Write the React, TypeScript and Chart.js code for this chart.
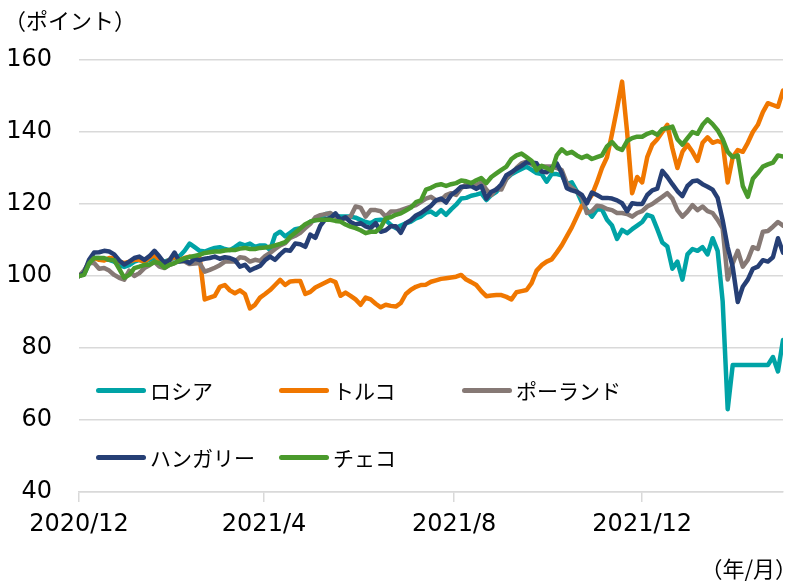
import React, { useEffect, useRef } from 'react';
import { Chart, registerables } from 'chart.js';

Chart.register(...registerables);

// ---- data ----
const seriesNames = ['ロシア', 'トルコ', 'ポーランド', 'ハンガリー', 'チェコ'];
const seriesColors = ['#00A3A6', '#F07700', '#867975', '#263F75', '#4A9A2C'];

const xTickIndex = [0, 36.8, 74.6, 112];
const xTickLabels = ['2020/12', '2021/4', '2021/8', '2021/12'];

const yMin = 40;
const yMax = 160;
const yStep = 20;

const russia = [
  100, 100.5, 103.5, 105, 105, 104.5, 104.5, 104, 103, 102.5,
  103, 104, 104.5, 104, 104.5, 105, 104.5, 104, 104.5, 105,
  105.5, 107, 109, 108, 107, 106.8, 107.3, 107.8, 108, 107.5,
  107.2, 108, 109, 108.5, 109, 108.1, 108.5, 108.5, 107.2, 111.4,
  112.3, 111, 112, 113, 113.3, 113.8, 115.1, 115.5, 116.2, 117.2,
  117.3, 116.7, 116.5, 116.5, 116.5, 116.2, 115.6, 115, 114.7, 115.5,
  115.6, 115.5, 114.2, 113.3, 114, 114.6, 115.1, 116, 116.5, 117.6,
  117.9, 117, 118.3, 117, 118.5, 119.8, 121.5, 121.7, 122.3, 122.6,
  123, 121.1, 122.5, 123.4, 125, 127, 128.3, 129, 129.7, 130.4,
  129.5, 128.6, 128.3, 126.2, 128.3, 128.3, 128, 125.5, 126, 123.5,
  120.5, 118.3, 116.5, 118.5, 118.5, 115.6, 114, 110.3, 112.8, 111.9,
  113, 114, 115, 117, 116.5, 113, 109.3, 108.2, 102, 104,
  99, 106, 107.5, 107, 108, 106, 110.5, 107, 93, 63,
  75.3, 75.3, 75.3, 75.3, 75.3, 75.3, 75.3, 75.3, 77.5, 73.5, 82.2,
];

const turkey = [
  100, 101, 104, 105, 104.5, 104.3, 105, 105, 104, 103.6,
  104, 104.5, 104.5, 104, 105, 105.8, 104.4, 103.5, 104.5, 105.4,
  104.4, 105, 105.4, 105, 105, 93.5, 94, 94.5, 97, 97.5,
  96, 95.2, 96, 95, 91, 92, 94, 95, 96.1, 97.5,
  98.9, 97.5, 98.5, 98.6, 98.6, 95, 95.6, 96.8, 97.5, 98.2,
  98.9, 98.3, 94.5, 95.4, 94.5, 93.5, 92, 94, 93.5, 92.3,
  91.3, 92, 91.7, 91.5, 92.5, 95, 96.2, 97, 97.5, 97.6,
  98.4, 98.8, 99.2, 99.4, 99.6, 99.8, 100.3, 99, 98.3, 97.5,
  95.8, 94.4, 94.6, 94.7, 94.7, 94.2, 93.5, 95.5, 95.8, 96.1,
  98, 101.5, 103, 104, 104.6, 106.5, 108.5, 111, 113.5, 116.5,
  119.5, 120.5, 122.5, 126, 130, 133, 139.5, 146.5, 154, 140,
  123, 127.5, 126, 133, 136.5, 138, 140, 142, 135.5, 130,
  134.5, 136.5, 134.5, 132, 137, 138.5, 137, 137.5, 137, 126,
  133, 135, 134.5, 137, 140, 142, 145.5, 148, 147.5, 147, 151.5,
];

const poland = [
  100, 101.5, 103.6, 103.6, 102, 102.2, 101.5, 100.3, 99.5, 99,
  101.5, 100, 100.8, 102.2, 103, 103.9, 102.6, 102.2, 103.1, 103.6,
  104.2, 104, 103.3, 103.5, 103.6, 101.2, 101.7, 102.3, 103, 104,
  104, 104, 105.2, 105, 104, 104.5, 104.2, 105.5, 106.4, 107.5,
  108.5, 109.1, 110.6, 111.2, 112, 113.3, 114.5, 116.3, 116.9, 117.2,
  117.5, 116.5, 115.6, 116, 116.5, 119.3, 119, 116.5, 118.3, 118.3,
  118, 116.5, 117.9, 117.9, 118.3, 118.8, 119.3, 119.7, 120.6, 121.5,
  122, 121, 121.1, 122.5, 123, 122.5, 124.4, 125.5, 125.5, 125.3,
  126, 124, 122.5, 124.2, 124, 127, 128.6, 130, 131.3, 131.8,
  131, 130.4, 130.4, 130.4, 130.4, 130, 129.4, 125.8, 124.5, 123.4,
  122, 117.5, 118, 119.5, 119.3, 118.6, 118.3, 117.5, 117.5, 117.2,
  116.5, 117.5, 118, 119.3, 120, 121, 122, 123, 121.5, 118.3,
  116.5, 117.9, 119.7, 118.3, 119.3, 118, 117.5, 115.6, 113.2, 99,
  103.5, 107, 102.6, 104.5, 108, 107.5, 112.3, 112.5, 113.7, 115, 114,
];

const hungary = [
  100, 100.8, 104.5, 106.5, 106.6, 107, 106.8, 106, 104.3, 103.2,
  104, 105, 105.4, 104.5, 105.5, 107, 105.4, 103.6, 104.4, 106.5,
  104, 104.3, 103.6, 104.8, 104.4, 104.8, 105, 105.4, 104.8, 105.2,
  105, 104.4, 102.6, 103.1, 101.5, 102.2, 102.8, 104.4, 105.4, 104.5,
  106, 107.2, 107, 109, 108.8, 108.1, 111.5, 110.6, 114, 115.8,
  116.1, 117.4, 115.6, 116.3, 115, 114.3, 114.7, 113.8, 113.3, 114.7,
  112.3, 112.7, 113.8, 113.8, 112, 114.7, 115.5, 116.8, 117.5, 118.5,
  119.5, 121, 121.5, 120.4, 122.5, 123.5, 124.8, 124.8, 125, 124.2,
  125, 121.5, 123.4, 124, 125.5, 128, 128.8, 129.8, 130.6, 131.6,
  131.5, 131.3, 129, 128.8, 130, 131.3, 128.6, 124.4, 123.8, 123.4,
  122.5, 120.2, 123.2, 122.5, 121.7, 121.7, 121.5, 121, 120.2, 118,
  120.2, 120, 120, 122.5, 123.8, 124.3, 129.2, 127.5, 125.5, 123.6,
  122.2, 125, 126.3, 126.5, 125.5, 124.8, 124, 121.7, 115.5, 108,
  102.5, 92.8, 97, 99, 102, 102.6, 104.4, 104, 105.2, 110.5, 106.5,
];

const czech = [
  100, 100.3, 103.5, 105, 105, 105, 104.5, 104.4, 102, 99.5,
  100.3, 102.2, 102.6, 103.1, 103.1, 103.9, 103.6, 102.3, 103.1, 103.6,
  104.3, 104.9, 105.3, 105.6, 105.9, 106.4, 106.6, 106.8, 106.8, 107.1,
  107.2, 107.2, 107.6, 107.8, 107.5, 107.5, 107.8, 107.9, 108.1, 108.5,
  108.9, 109.4, 110.9, 112, 113.2, 114.4, 115.1, 115.5, 115.6, 115.6,
  115.6, 115.3, 115.1, 114.3, 113.7, 113.3, 112.7, 111.9, 112.3, 112.3,
  113.5, 116, 116.3, 117, 117.4, 118.2, 119, 120.5, 121, 124,
  124.5, 125.2, 125.5, 125, 125.5, 125.8, 126.5, 126.3, 125.8, 126.6,
  127.2, 125.8, 127.5, 128.5, 129.5, 130.4, 132.5, 133.5, 134, 133,
  132, 129.4, 130.6, 130, 129.2, 133.5, 135.2, 134, 134.5, 133.5,
  132.8, 133.4, 132.5, 133, 133.5, 136, 137.2, 135.6, 135, 137.5,
  138.3, 138.7, 138.7, 139.5, 140, 139.2, 140.8, 141.1, 141.5, 138,
  136.5, 138.3, 140, 139.5, 142, 143.5, 142.2, 140.5, 138, 134.5,
  133, 133.5, 125, 122, 127, 128.6, 130.4, 131, 131.5, 133.5, 133.2,
];

const seriesValues = [russia, turkey, poland, hungary, czech];

const yAxisTitle = '（ポイント）';
const xAxisTitle = '（年/月）';

const LATIN = '"DejaVu Sans", "Noto Sans CJK JP", sans-serif';
const CJK = '"Noto Sans CJK JP", "DejaVu Sans", sans-serif';

export default function App() {
  const canvasRef = useRef<HTMLCanvasElement | null>(null);

  useEffect(() => {
    const canvas = canvasRef.current;
    if (!canvas) return;
    const labels = russia.map((_, i) => i);
    const chart = new Chart(canvas, {
      type: 'line',
      data: {
        labels,
        datasets: seriesValues.map((vals, k) => ({
          label: seriesNames[k],
          data: vals,
          borderColor: seriesColors[k],
          backgroundColor: seriesColors[k],
          borderWidth: 4.5,
          pointRadius: 0,
          tension: 0,
          borderJoinStyle: 'round' as const,
          borderCapStyle: 'round' as const,
          order: seriesNames.length - k,
        })),
      },
      options: {
        responsive: false,
        animation: false,
        events: [],
        layout: { padding: { top: 60, right: 11, left: 0, bottom: 0 } },
        plugins: {
          legend: { display: false },
          tooltip: { enabled: false },
          title: { display: false },
        },
        scales: {
          x: {
            type: 'linear',
            min: 0,
            max: russia.length - 1,
            afterBuildTicks: (scale: any) => {
              scale.ticks = xTickIndex.map((v) => ({ value: v }));
            },
            afterFit: (scale: any) => {
              scale.height = 89;
            },
            ticks: {
              autoSkip: false,
              maxRotation: 0,
              minRotation: 0,
              padding: 8,
              color: '#000',
              font: { family: LATIN, size: 24 },
              callback: (value: any) => {
                const k = xTickIndex.indexOf(Number(value));
                return k >= 0 ? xTickLabels[k] : '';
              },
            },
            grid: {
              drawOnChartArea: false,
              drawTicks: true,
              tickLength: 10,
              color: '#d9d9d9',
              lineWidth: 1.5,
            },
            border: { display: true, color: '#d9d9d9', width: 1.5 },
          },
          y: {
            min: yMin,
            max: yMax,
            afterFit: (scale: any) => {
              scale.width = 79;
            },
            ticks: {
              stepSize: yStep,
              padding: 27,
              color: '#000',
              font: { family: LATIN, size: 24 },
            },
            grid: {
              drawTicks: false,
              color: '#d9d9d9',
              lineWidth: 1.5,
            },
            border: { display: false },
          },
        },
      },
    });
    return () => chart.destroy();
  }, []);

  return (
    <div style={{ position: 'absolute', left: 0, top: 0, width: 794, height: 581, background: '#fff', overflow: 'hidden' }}>
      <canvas ref={canvasRef} width={794} height={581} style={{ position: 'absolute', left: 0, top: 0, width: 794, height: 581 }} />
      <div style={{ position: 'absolute', left: 4, top: 6, font: `22px ${CJK}`, lineHeight: '26px', color: '#000', whiteSpace: 'nowrap' }}>
        {yAxisTitle}
      </div>
      <div style={{ position: 'absolute', right: -3, top: 554, font: `22px ${CJK}`, lineHeight: '26px', color: '#000', whiteSpace: 'nowrap' }}>
        {xAxisTitle}
      </div>
      {seriesNames.map((name, k) => {
        const col = k % 3;
        const row = Math.floor(k / 3);
        const left = 96 + col * 183;
        const cy = 390 + row * 67;
        return (
          <div key={name} style={{ position: 'absolute', left, top: cy - 13, height: 26, display: 'flex', alignItems: 'center', whiteSpace: 'nowrap' }}>
            <div style={{ width: 50, height: 5, borderRadius: 3, background: seriesColors[k] }} />
            <span style={{ marginLeft: 4, font: `21px ${CJK}`, lineHeight: '26px', color: '#000' }}>{name}</span>
          </div>
        );
      })}
    </div>
  );
}
